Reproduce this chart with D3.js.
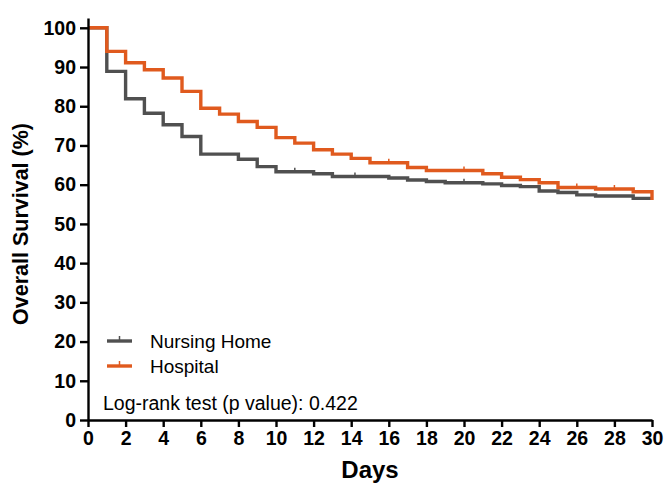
<!DOCTYPE html>
<html>
<head>
<meta charset="utf-8">
<script src="https://cdn.jsdelivr.net/npm/d3@7"></script>
<style>
  body { margin: 0; background: #fff; }
  svg { font-family: "Liberation Sans", Arial, sans-serif; }
</style>
</head>
<body>
<div id="chart"></div>
<script>
// step curves (day of drop, survival % after it)
var nursingDays = [0, 1, 2, 3, 4, 5, 6, 8, 9, 10, 12, 13, 16, 17, 18, 19, 21, 22, 23, 24, 25, 26, 27, 29, 30];
var nursingSurv = [100, 88.9, 81.9, 78.2, 75.3, 72.3, 67.8, 66.5, 64.6, 63.3, 62.8, 62.1, 61.7, 61.2, 60.8, 60.5, 60.2, 59.8, 59.5, 58.4, 58.0, 57.4, 57.1, 56.5, 56.5];
var nursingCensor = [11, 14.2, 20];

var hospitalDays = [0, 1, 2, 3, 4, 5, 6, 7, 8, 9, 10, 11, 12, 13, 14, 15, 17, 18, 21, 22, 23, 24, 25, 27, 29, 30];
var hospitalSurv = [100, 94.0, 91.1, 89.3, 87.2, 83.8, 79.5, 78.0, 76.1, 74.6, 72.0, 70.6, 68.9, 67.8, 66.7, 65.6, 64.4, 63.6, 62.8, 61.9, 61.3, 60.5, 59.3, 58.9, 58.2, 56.1];
var hospitalCensor = [16, 20, 26, 28];

var xTicks = d3.range(0, 31, 2);
var yTicks = d3.range(0, 101, 10);

var seriesNames = ["Nursing Home", "Hospital"];
var colors = ["#505050", "#e05a1e"];

var width = 666, height = 490;
var svg = d3.select("#chart").append("svg")
    .attr("width", width)
    .attr("height", height);

var x = d3.scaleLinear().domain([0, 30]).range([88, 652]);
var y = d3.scaleLinear().domain([0, 102.5]).range([420, 18]);

var series = [
  { name: seriesNames[0], days: nursingDays, surv: nursingSurv, censor: nursingCensor, color: colors[0] },
  { name: seriesNames[1], days: hospitalDays, surv: hospitalSurv, censor: hospitalCensor, color: colors[1] }
];

var line = d3.line()
    .x(function(d) { return x(d[0]); })
    .y(function(d) { return y(d[1]); })
    .curve(d3.curveStepAfter);

// value at a given day for placing censor ticks
function survAt(s, day) {
  var v = s.surv[0];
  for (var i = 0; i < s.days.length; i++) {
    if (s.days[i] <= day) v = s.surv[i];
  }
  return v;
}

series.forEach(function(s) {
  var pts = s.days.map(function(d, i) { return [d, s.surv[i]]; });
  svg.append("path")
      .datum(pts)
      .attr("fill", "none")
      .attr("stroke", s.color)
      .attr("stroke-width", 3.4)
      .attr("d", line);

  svg.selectAll(null)
      .data(s.censor).enter()
      .append("line")
      .attr("x1", function(d) { return x(d); })
      .attr("x2", function(d) { return x(d); })
      .attr("y1", function(d) { return y(survAt(s, d)) - 4; })
      .attr("y2", function(d) { return y(survAt(s, d)) + 1; })
      .attr("stroke", s.color)
      .attr("stroke-width", 1.5);
});

// axes
var xAxis = svg.append("g")
    .attr("transform", "translate(0,420)")
    .call(d3.axisBottom(x).tickValues(xTicks).tickSize(7).tickPadding(4).tickSizeOuter(0));
var yAxis = svg.append("g")
    .attr("transform", "translate(88,0)")
    .call(d3.axisLeft(y).tickValues(yTicks).tickSize(8).tickPadding(4).tickSizeOuter(0));

[xAxis, yAxis].forEach(function(g) {
  g.select(".domain").attr("stroke", "#000").attr("stroke-width", 2.4);
  g.selectAll(".tick line").attr("stroke", "#000").attr("stroke-width", 2.4);
  g.selectAll(".tick text")
      .attr("fill", "#000")
      .style("font-size", "19.5px")
      .style("font-weight", "bold")
      .style("font-family", "'Liberation Sans', Arial, sans-serif");
});

svg.append("text")
    .attr("transform", "translate(20,224) rotate(-90)")
    .attr("text-anchor", "middle")
    .attr("dy", "0.35em")
    .style("font-size", "21.5px")
    .style("font-weight", "bold")
    .text("Overall Survival (%)");

svg.append("text")
    .attr("x", 370)
    .attr("y", 470)
    .attr("text-anchor", "middle")
    .attr("dy", "0.35em")
    .style("font-size", "24px")
    .style("font-weight", "bold")
    .text("Days");

// legend
var legend = svg.append("g").attr("transform", "translate(107,341)");
series.forEach(function(s, i) {
  var g = legend.append("g").attr("transform", "translate(0," + (i * 25) + ")");
  g.append("line")
      .attr("x1", 0).attr("x2", 25)
      .attr("stroke", s.color).attr("stroke-width", 3.4);
  g.append("line")
      .attr("x1", 12.5).attr("x2", 12.5)
      .attr("y1", -5).attr("y2", 0)
      .attr("stroke", s.color).attr("stroke-width", 1.5);
  g.append("text")
      .attr("x", 43)
      .attr("dy", "0.35em")
      .style("font-size", "19px")
      .text(s.name);
});

svg.append("text")
    .attr("x", 103)
    .attr("y", 403)
    .attr("dy", "0.35em")
    .style("font-size", "19.5px")
    .text("Log-rank test (p value): 0.422");
</script>
</body>
</html>
